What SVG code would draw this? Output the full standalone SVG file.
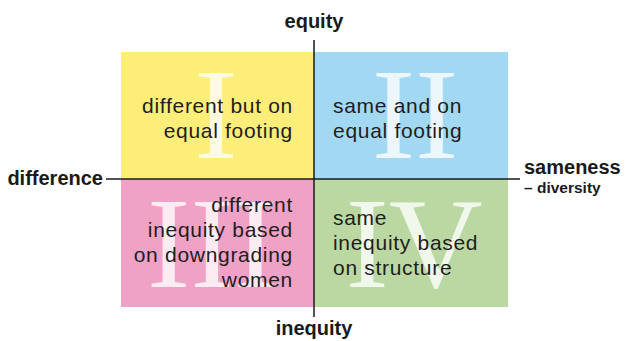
<svg xmlns="http://www.w3.org/2000/svg" width="625" height="341" viewBox="0 0 625 341">
<style>
.axis{font-family:"Liberation Sans",Arial,sans-serif;font-weight:bold;font-size:20px;fill:#1a1a1a}
.small{font-size:15.5px}
.body{font-family:"Liberation Sans",Arial,sans-serif;font-size:21px;letter-spacing:0.7px;fill:#1e1e1e}
.num{font-family:"Liberation Serif","Times New Roman",serif;font-size:130px;fill:#ffffff;fill-opacity:0.78;text-anchor:middle}
.line{stroke:#1a1a1a;stroke-width:1.5;fill:none}
</style>
<rect width="625" height="341" fill="#ffffff"/>
<g id="q1">
<rect x="121" y="52" width="193" height="127" fill="#FCEE78"/>
<text class="num" x="216" y="158">I</text>
<text class="body" x="293" y="113" text-anchor="end">different but on</text>
<text class="body" x="293" y="138" text-anchor="end">equal footing</text>
</g>
<g id="q2">
<rect x="314" y="52" width="194" height="127" fill="#A3D8F2"/>
<text class="num" x="415" y="158">II</text>
<text class="body" x="333" y="113">same and on</text>
<text class="body" x="333" y="138">equal footing</text>
</g>
<g id="q3">
<rect x="121" y="179" width="193" height="128" fill="#EFA2C5"/>
<text class="num" x="212" y="287">III</text>
<text class="body" x="293" y="212" text-anchor="end">different</text>
<text class="body" x="293" y="237" text-anchor="end">inequity based</text>
<text class="body" x="293" y="262" text-anchor="end">on downgrading</text>
<text class="body" x="293" y="287" text-anchor="end">women</text>
</g>
<g id="q4">
<rect x="314" y="179" width="194" height="128" fill="#BCD8A2"/>
<text class="num" x="414" y="287">IV</text>
<text class="body" x="333" y="225">same</text>
<text class="body" x="333" y="250">inequity based</text>
<text class="body" x="333" y="275">on structure</text>
</g>
<g id="connectors">
<line class="line" x1="314" y1="40" x2="314" y2="317"/>
<line class="line" x1="106" y1="179" x2="520" y2="179"/>
</g>
<g id="labels">
<text class="axis" x="314" y="28" text-anchor="middle">equity</text>
<text class="axis" x="314" y="335" text-anchor="middle">inequity</text>
<text class="axis" x="103" y="185" text-anchor="end">difference</text>
<text class="axis" x="524" y="174">sameness</text>
<text class="axis small" x="524" y="193">– diversity</text>
</g>
</svg>
